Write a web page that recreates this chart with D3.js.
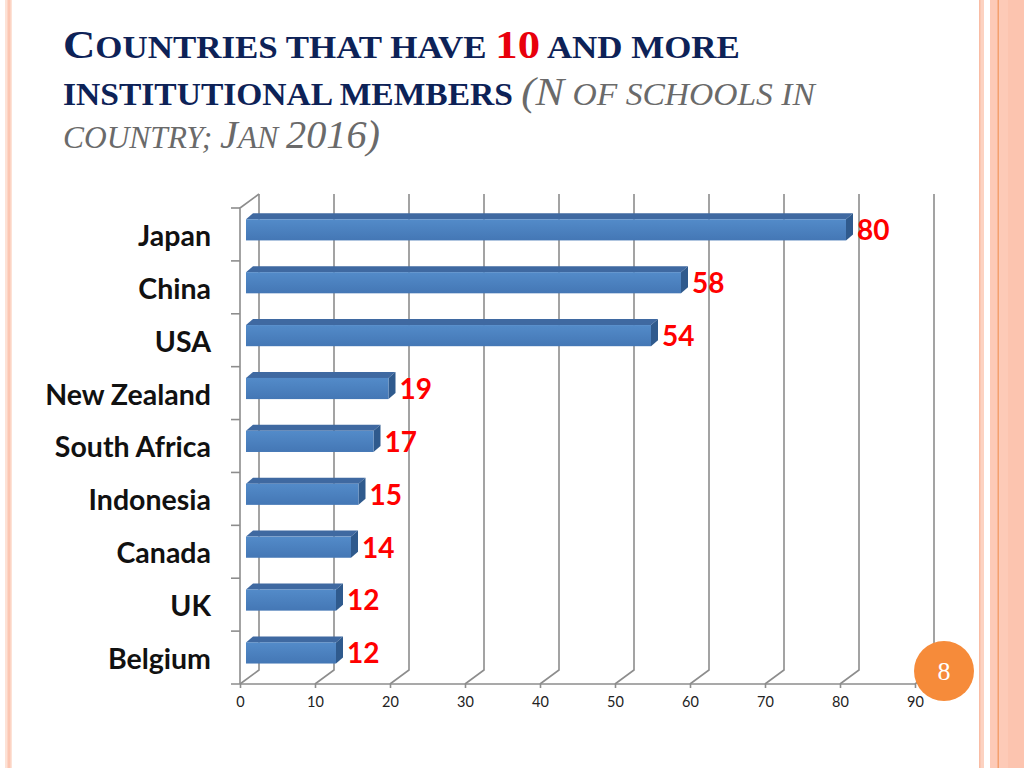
<!DOCTYPE html>
<html>
<head>
<meta charset="utf-8">
<script src="https://cdn.jsdelivr.net/npm/d3@7"></script>
<style>
  html, body { margin: 0; padding: 0; background: #ffffff; }
  svg { display: block; }
</style>
</head>
<body>
<svg id="chart" width="1024" height="768"></svg>
<script>
// ---- data ----
const categories = ["Japan", "China", "USA", "New Zealand", "South Africa", "Indonesia", "Canada", "UK", "Belgium"];
const values = [80, 58, 54, 19, 17, 15, 14, 12, 12];
const xTicks = [0, 10, 20, 30, 40, 50, 60, 70, 80, 90];
const pageNumber = "8";

const svg = d3.select("#chart");

// ---- slide decoration ----
const deco = svg.append("g");
deco.append("rect").attr("x", 5).attr("y", 0).attr("width", 7).attr("height", 768).attr("fill", "#fde2d6");
deco.append("rect").attr("x", 7.5).attr("y", 0).attr("width", 3).attr("height", 768).attr("fill", "#fcc6b2");
deco.append("rect").attr("x", 979).attr("y", 0).attr("width", 5).attr("height", 768).attr("fill", "#fcd2c1");
deco.append("rect").attr("x", 979).attr("y", 0).attr("width", 1.5).attr("height", 768).attr("fill", "#f9bca4");
deco.append("rect").attr("x", 990).attr("y", 0).attr("width", 34).attr("height", 768).attr("fill", "#fdcab7");
deco.append("rect").attr("x", 997.5).attr("y", 0).attr("width", 1.5).attr("height", 768).attr("fill", "#f4a06f");
deco.append("rect").attr("x", 1008).attr("y", 0).attr("width", 16).attr("height", 768).attr("fill", "#fcc4af");

// ---- title ----
const NAVY = "#0d2257", RED = "#e8000b", GRAY = "#6a6a6a";
const BIG = 41, SMALL = 32;
const titleLines = [
  { y: 58, w: 677, parts: [
    { t: "C", s: BIG, c: NAVY }, { t: "OUNTRIES THAT HAVE ", s: SMALL, c: NAVY },
    { t: "10", s: BIG, c: RED }, { t: " AND MORE", s: SMALL, c: NAVY } ] },
  { y: 105, w: 752, parts: [
    { t: "INSTITUTIONAL MEMBERS ", s: SMALL, c: NAVY },
    { t: "(N", s: BIG, c: GRAY, i: true }, { t: " OF SCHOOLS IN", s: SMALL, c: GRAY, i: true } ] },
  { y: 148, w: 317, parts: [
    { t: "COUNTRY; ", s: SMALL, c: GRAY, i: true }, { t: "J", s: BIG, c: GRAY, i: true },
    { t: "AN ", s: SMALL, c: GRAY, i: true }, { t: "2016)", s: BIG, c: GRAY, i: true } ] }
];
titleLines.forEach(line => {
  const g = svg.append("g").attr("transform", `translate(63,${line.y})`);
  const txt = g.append("text").attr("x", 0).attr("y", 0)
    .attr("font-family", "'Liberation Serif', 'DejaVu Serif', serif")
    .style("white-space", "pre");
  line.parts.forEach(p => {
    txt.append("tspan").text(p.t)
      .attr("font-size", p.s)
      .attr("fill", p.c)
      .attr("font-weight", p.i ? "normal" : "bold")
      .attr("font-style", p.i ? "italic" : "normal");
  });
  const natural = txt.node().getComputedTextLength();
  const sx = line.w / natural;
  g.attr("transform", `translate(63,${line.y}) scale(${sx},1)`);
});

// ---- chart geometry ----
const floorY = 684, topY = 208;
const DX = 19, DY = -14;          // depth of the 3D box
const x = d3.scaleLinear().domain([0, 90]).range([240, 915]);
const y = d3.scaleBand().domain(categories).range([topY, floorY]).paddingInner(0).paddingOuter(0);
const GRID = "#8d8d8d";

const grid = svg.append("g").attr("fill", "none").attr("stroke", GRID).attr("stroke-width", 1.6);
// back-wall vertical gridlines with floor diagonals
xTicks.forEach(v => {
  grid.append("path").attr("d",
    `M${x(v) + DX},${topY + DY} L${x(v) + DX},${floorY + DY} L${x(v)},${floorY}`);
});
// left wall
grid.append("path").attr("d", `M${x(0)},${floorY} L${x(0)},${topY} L${x(0) + DX},${topY + DY}`);
// floor front edge
grid.append("path").attr("d", `M${x(0) - 9},${floorY} L${x(90)},${floorY}`);

// left category ticks at band boundaries
categories.forEach(c => {
  grid.append("line").attr("x1", x(0) - 9).attr("x2", x(0)).attr("y1", y(c)).attr("y2", y(c));
});

// bottom axis (ticks + labels)
const xAxis = d3.axisBottom(x).tickValues(xTicks).tickSize(4).tickPadding(9).tickFormat(d3.format("d"));
const ax = svg.append("g").attr("transform", `translate(0,${floorY})`).call(xAxis);
ax.select(".domain").remove();
ax.selectAll(".tick line").attr("stroke", GRID).attr("stroke-width", 1.6);
ax.selectAll(".tick text").attr("font-family", "Lato, 'Open Sans', sans-serif").attr("font-size", 14.5).attr("fill", "#222");

// ---- bars (3D) ----
const defs = svg.append("defs");
const grad = defs.append("linearGradient").attr("id", "front").attr("x1", 0).attr("y1", 0).attr("x2", 0).attr("y2", 1);
grad.append("stop").attr("offset", "0%").attr("stop-color", "#538bc9");
grad.append("stop").attr("offset", "100%").attr("stop-color", "#4477b5");

const F_DX = 6, F_DY = -4.6;   // bar front plane offset
const B_DX = 7, B_DY = -6;     // bar depth
const barH = y.bandwidth() * 0.4;

const bars = svg.append("g").selectAll("g.bar")
  .data(categories.map((c, i) => ({ c, v: values[i] })))
  .join("g").attr("class", "bar");

bars.each(function(d) {
  const g = d3.select(this);
  const x0 = x(0) + F_DX, x1 = x(d.v) + F_DX;
  const yt = y(d.c) + y.bandwidth() * 0.3 + F_DY, yb = yt + barH;
  // top face
  g.append("path").attr("d",
    `M${x0},${yt} L${x1},${yt} L${x1 + B_DX},${yt + B_DY} L${x0 + B_DX},${yt + B_DY} Z`)
    .attr("fill", "#3f69a1");
  // end face
  g.append("path").attr("d",
    `M${x1},${yt} L${x1 + B_DX},${yt + B_DY} L${x1 + B_DX},${yb + B_DY} L${x1},${yb} Z`)
    .attr("fill", "#2f5a8d");
  // front face
  g.append("rect").attr("x", x0).attr("y", yt).attr("width", x1 - x0).attr("height", barH)
    .attr("fill", "url(#front)");
  // value label
  g.append("text").text(d.v)
    .attr("x", x1 + B_DX + 4).attr("y", yt + barH / 2).attr("dy", "0.37em")
    .attr("font-family", "Lato, 'Open Sans', sans-serif").attr("font-weight", "bold")
    .attr("font-size", 28).attr("fill", "#ff0000");
});

// ---- category labels ----
svg.append("g").selectAll("text")
  .data(categories).join("text")
  .text(d => d)
  .attr("x", 211).attr("y", d => y(d) + y.bandwidth() / 2).attr("dy", "0.4em")
  .attr("text-anchor", "end")
  .attr("font-family", "Lato, 'Open Sans', sans-serif").attr("font-weight", "bold")
  .attr("font-size", 28.5).attr("fill", "#111");

// ---- page number badge ----
svg.append("circle").attr("cx", 944).attr("cy", 671).attr("r", 30).attr("fill", "#f68b3a");
svg.append("text").text(pageNumber).attr("x", 944).attr("y", 671).attr("dy", "0.35em")
  .attr("text-anchor", "middle").attr("font-family", "'Liberation Serif', serif")
  .attr("font-size", 26).attr("fill", "#ffffff");
</script>
</body>
</html>
